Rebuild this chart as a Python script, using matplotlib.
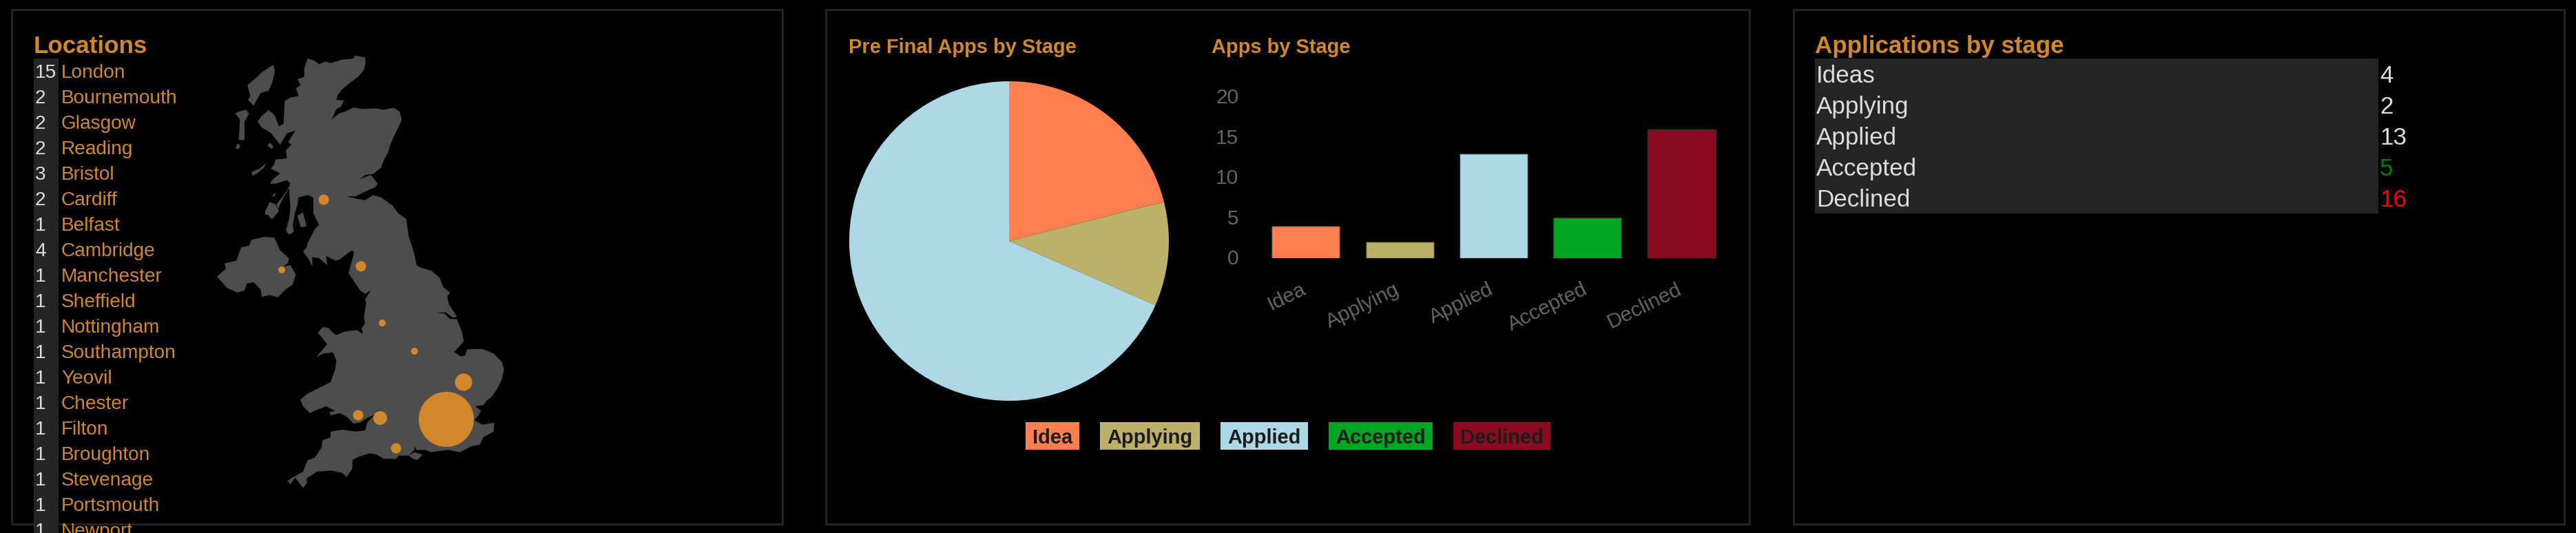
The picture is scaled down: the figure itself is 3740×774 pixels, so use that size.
import matplotlib
matplotlib.use("Agg")
import matplotlib.pyplot as plt
from matplotlib.patches import Polygon, Rectangle
from matplotlib.transforms import ScaledTranslation

W, H = 3740, 774
ORANGE = "#d2872a"
LIGHT = "#dddddd"
BG2 = "#252525"
plt.rcParams["font.family"] = ["Liberation Sans", "DejaVu Sans"]

# ---- data ----
location_names = ["London", "Bournemouth", "Glasgow", "Reading", "Bristol", "Cardiff", "Belfast",
                  "Cambridge", "Manchester", "Sheffield", "Nottingham", "Southampton", "Yeovil",
                  "Chester", "Filton", "Broughton", "Stevenage", "Portsmouth", "Newport"]
location_counts = [15, 2, 2, 2, 3, 2, 1, 4, 1, 1, 1, 1, 1, 1, 1, 1, 1, 1, 1]

stages = ["Idea", "Applying", "Applied", "Accepted", "Declined"]
stage_values = [4, 2, 13, 5, 16]
stage_colors = ["#ff7f50", "#bdb068", "#add8e6", "#00a521", "#8a0b20"]
pie_values = [4, 2, 13]
pie_colors = stage_colors[:3]
bar_ticks = [0, 5, 10, 15, 20]

table_labels = ["Ideas", "Applying", "Applied", "Accepted", "Declined"]
table_values = [4, 2, 13, 5, 16]
table_colors = [LIGHT, LIGHT, LIGHT, "#008000", "#ff0000"]

# bubbles on the map, in the map's own coordinates
bubble_x = [1044, 1119, 756, 660, 825, 510, 672, 327, 765, 905]
bubble_y = [1617, 1455, 1611, 1599, 1743, 660, 950, 966, 1197, 1320]
bubble_n = [15, 4, 3, 2, 2, 2, 2, 1, 1, 1]

# outline of Great Britain in map coordinates
coast_north_east = [(440,45),(470,55),(490,70),(515,58),(540,65),(590,50),(640,45),(645,32),(690,40),(692,65),
    (685,95),(660,125),(625,150),(590,180),(570,205),(565,225),(598,228),(585,255),(565,265),(545,310),(575,285),
    (605,275),(640,258),(680,265),(730,262),(770,268),(815,260),(840,275),(850,310),(835,345),(815,385),(800,420),
    (790,455),(770,490),(760,520),(725,548),(690,552),(668,570),(715,552),(745,590),(735,605),(690,625),(650,645),
    (608,645),(650,655),(690,662),(725,640),(760,650),(810,685),(835,720),(870,745),(880,820),(900,880),(915,945),
    (930,955),(980,970),(1015,1000),(1030,1040),(1060,1065)]
coast_south = [(1048,90),(1055,125),(1090,180),(1075,185),(1040,160),(1000,165),(1035,165),(1060,190),(1090,190),
    (1110,240),(1120,285),(1100,310),(1078,333),(1105,352),(1125,350),(1135,322),(1200,320),(1250,340),(1285,375),
    (1295,410),(1285,455),(1265,495),(1240,530),(1220,545),(1205,565),(1170,570),(1195,590),(1180,615),(1165,630),
    (1200,650),(1253,642),(1250,680),(1205,705),(1190,737),(1150,745),(1105,770),(1050,760),(975,770),(955,760),
    (915,760),(905,745),(905,760),(880,785),(835,785),(825,800),(770,798),(740,780),(710,775),(660,790),(635,805),
    (635,840),(610,878),(590,860),(545,850),(480,855),(435,885),(437,905),(420,925),(400,900),(385,880),(365,910),
    (352,895),(375,880),(420,855),(440,805),(470,795),(500,750),(505,718),(540,705),(540,680),(590,672),(650,680),
    (690,675),(700,640),(725,615),(750,590),(765,572),(735,605),(700,620),(670,640),(640,645),(610,615),(580,600),
    (540,610),(535,595),(560,590),(520,570),(470,590),(450,600),(420,570),(408,540),(440,515),(490,490),(540,465),
    (560,410),(565,370),(550,335),(510,340),(478,355),(525,300),(485,250),(505,225),(530,228),(550,250),(565,260),
    (600,245),(655,238),(680,255),(675,230),(690,210),(685,185),(695,120),(690,105),(715,65),(690,80),(668,65),(625,0)]
coast_north_west = [(618,980),(640,900),(640,885),(630,882),(600,905),(580,920),(560,925),(520,905),(525,945),
    (490,915),(460,910),(460,950),(445,920),(420,885),(435,870),(440,850),(470,790),(490,770),(465,720),(465,650),
    (440,640),(400,650),(395,685),(385,715),(375,770),(380,800),(360,812),(345,795),(360,740),(365,690),(360,640),
    (360,610),(340,640),(310,700),(305,680),(350,620),(365,590),(350,575),(300,590),(275,590),(290,570),(320,545),
    (280,525),(295,505),(300,485),(350,480),(345,445),(370,420),(355,410),(385,360),(350,370),(320,420),(280,370),
    (240,345),(222,320),(240,295),(270,270),(295,290),(315,340),(335,330),(340,230),(365,215),(400,208),(390,175),
    (410,160),(395,135),(425,125),(425,90)]
islands = [
    [(290,72),(298,100),(285,150),(270,185),(235,195),(205,250),(180,225),(190,210),(178,160),(215,130),(240,105)],
    [(130,280),(170,268),(185,285),(165,320),(165,400),(140,400),(145,310),(125,285)],
    [(125,435),(135,415),(147,425),(140,440)],
    [(275,412),(290,425),(285,440),(265,425)],
    [(195,540),(230,525),(260,500),(250,520),(220,545),(200,555)],
    [(255,710),(275,670),(300,680),(315,710),(285,745),(265,725),(255,725)],
    [(395,730),(420,715),(435,775),(410,780)],
    [(285,645),(300,628),(298,645)],
    [(880,1775),(905,1760),(940,1770),(920,1793),(900,1790)],
    [(45,995),(85,960),(78,938),(130,925),(150,868),(185,860),(195,835),(250,822),(295,825),(320,880),(358,915),
     (355,935),(335,950),(365,945),(388,985),(375,1030),(345,1050),(310,1085),(275,1075),(240,1083),(235,1050),
     (205,1020),(175,1025),(165,1055),(135,1065),(90,1045)],
]

# ---- helpers ----
fig = plt.figure(figsize=(W / 100, H / 100), dpi=100, facecolor="black")

def px_axes(x0, y0, x1, y1):
    return fig.add_axes([x0 / W, 1 - y1 / H, (x1 - x0) / W, (y1 - y0) / H])

def txt(x, y, s, size_px, color, weight="normal", va="center", ha="left"):
    fig.text(x / W, 1 - y / H, s, fontsize=size_px * 0.72, color=color, fontweight=weight,
             va=va, ha=ha, zorder=5)

def rect(x0, y0, x1, y1, **kw):
    fig.add_artist(Rectangle((x0 / W, 1 - y1 / H), (x1 - x0) / W, (y1 - y0) / H,
                             transform=fig.transFigure, **kw))

# panel frames
for x0, x1 in [(17, 1136), (1199, 2540), (2604, 3723)]:
    rect(x0, 14, x1, 761, facecolor="none", edgecolor="#262626", linewidth=2)

# ---- Locations panel ----
txt(49, 77, "Locations", 35, ORANGE, "bold", va="baseline")
rect(49, 85, 85, 790, facecolor=BG2, edgecolor="none")
for i, (name, n) in enumerate(zip(location_names, location_counts)):
    y = 106 + 37 * i
    txt(51, y, str(n), 28, LIGHT)
    txt(89, y, name, 28, ORANGE)

ax_map = px_axes(300, 70, 750, 740)
ax_map.set_xlim(0, 1350)
ax_map.set_ylim(2010, 0)
ax_map.axis("off")
mainland = coast_north_east + [(x, y + 990) for x, y in coast_south] + coast_north_west
ax_map.add_patch(Polygon(mainland, closed=True, facecolor="#4d4d4d", edgecolor="none"))
for isl in islands:
    ax_map.add_patch(Polygon(isl, closed=True, facecolor="#4d4d4d", edgecolor="none"))
ax_map.scatter(bubble_x, bubble_y, s=[(2 * 2.5 * (n + 1) * 0.72) ** 2 for n in bubble_n],
               color=ORANGE, linewidths=0, zorder=3)

# ---- Pie ----
txt(1232, 77, "Pre Final Apps by Stage", 29, ORANGE, "bold", va="baseline")
txt(1759, 77, "Apps by Stage", 29, ORANGE, "bold", va="baseline")
cx, cy, r = 1465, 350, 232
ax_pie = px_axes(cx - r, cy - r, cx + r, cy + r)
ax_pie.pie(pie_values, colors=pie_colors, startangle=90, counterclock=False, radius=1)
ax_pie.set_xlim(-1, 1)
ax_pie.set_ylim(-1, 1)

# ---- Bars ----
ax_bar = px_axes(1827.5, 141, 2509.5, 374.5)
ax_bar.set_facecolor("none")
ax_bar.bar(range(5), stage_values, width=0.726, color=stage_colors, edgecolor="#333333", linewidth=1)
ax_bar.set_xlim(-0.5, 4.5)
ax_bar.set_ylim(0, 20)
for s in ax_bar.spines.values():
    s.set_visible(False)
ax_bar.set_yticks(bar_ticks)
ax_bar.set_yticklabels([str(v) for v in bar_ticks], fontsize=21.6, color="#666666")
ax_bar.set_xticks(range(5))
ax_bar.set_xticklabels(stages, fontsize=21.6, color="#666666", rotation=26, ha="right",
                       va="top", rotation_mode="anchor")
ax_bar.tick_params(axis="y", length=0, pad=21)
ax_bar.tick_params(axis="x", length=0, pad=22)
x_shift = ScaledTranslation(-8 / 100, -1 / 100, fig.dpi_scale_trans)
for lab in ax_bar.get_xticklabels():
    lab.set_transform(lab.get_transform() + x_shift)
y_shift = ScaledTranslation(0, 1.5 / 100, fig.dpi_scale_trans)
for lab in ax_bar.get_yticklabels():
    lab.set_transform(lab.get_transform() + y_shift)

# ---- Legend chips ----
chips = [(1489, 1566.6), (1597, 1741.6), (1772, 1899), (1929, 2080), (2110, 2251)]
for (x0, x1), s, c in zip(chips, stages, stage_colors):
    rect(x0, 613, x1, 653, facecolor=c, edgecolor="none")
    txt((x0 + x1) / 2, 636, s, 29, "#1c1c1c", "bold", ha="center")

# ---- Table panel ----
txt(2635, 77, "Applications by stage", 35, ORANGE, "bold", va="baseline")
rect(2635, 85, 3453, 310, facecolor=BG2, edgecolor="none")
for i, (lab, v, c) in enumerate(zip(table_labels, table_values, table_colors)):
    y = 110.5 + 44.9 * i
    txt(2637, y, lab, 35, LIGHT)
    txt(3455, y, str(v), 35, c)

fig.savefig("out.png", dpi=100, facecolor="black")
